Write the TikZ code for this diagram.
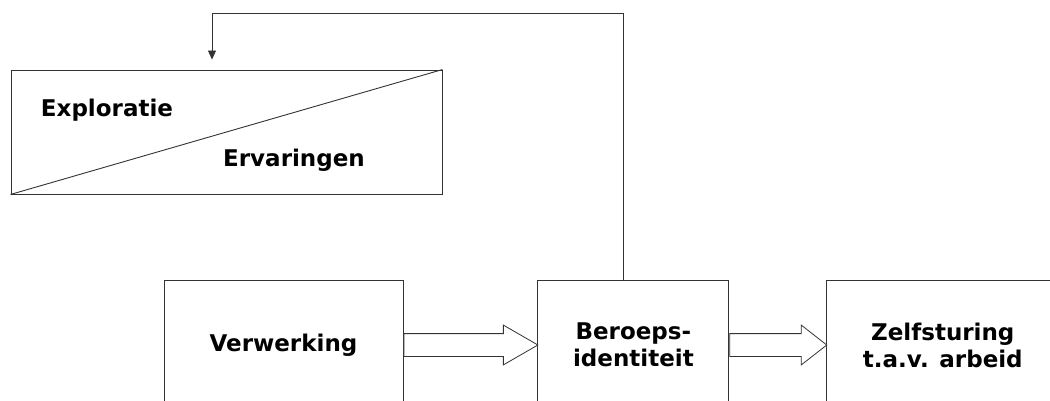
\documentclass[tikz,border=0pt]{standalone}
\usepackage{fontspec}
\setsansfont{DejaVu Sans}
\usetikzlibrary{positioning, shapes.arrows, arrows.meta}

\begin{document}
\begin{tikzpicture}[
    x=1pt, y=-1pt,
    box/.style={rectangle, draw=black!80, line width=0.9pt, align=center, inner sep=0pt, font=\sffamily\bfseries\fontsize{23}{27}\selectfont},
    txt/.style={inner sep=0pt, font=\sffamily\bfseries\fontsize{23}{27}\selectfont},
    blockarrow/.style={single arrow, draw=black!80, line width=0.8pt, fill=white, inner xsep=0pt, inner ysep=11pt, single arrow head extend=8.5pt, single arrow head indent=0pt, anchor=tail},
    fb/.style={-{Triangle[width=8pt,length=9pt]}, draw=black!80, line width=0.9pt}
]
    \useasboundingbox (0,0) rectangle (1050,401);
    \clip (0,0) rectangle (1050,401);

    % Top box, split diagonally
    \node[box, minimum width=431pt, minimum height=124pt] (ervbox) at (226.5,132) {};
    \draw[draw=black!80, line width=0.9pt] (ervbox.south west) -- (ervbox.north east);
    \node[txt] (expl) at (107,110) {Exploratie};
    \node[txt] (erv) at (294,160) {Ervaringen};

    % Bottom row
    \node[box, minimum width=239pt, minimum height=130pt] (verw) at (283.5,345) {Verwerking};
    \node[box, minimum width=191pt, minimum height=130pt, right=134pt of verw] (beroeps) {Beroeps-\\identiteit};
    \node[box, minimum width=232pt, minimum height=130pt, right=97pt of beroeps] (zelf) {Zelfsturing\\t.a.v. arbeid};

    % Block arrows
    \node[blockarrow, minimum height=134pt, single arrow tip angle=60] (pijl1) at (verw.east) {};
    \node[blockarrow, minimum height=97pt, single arrow tip angle=76] (pijl2) at (beroeps.east) {};

    % Feedback
    \coordinate (fbknik) at (212,13);
    \draw[fb, shorten >=10pt] ([xshift=-9.5pt]beroeps.north) |- (fbknik) -- (fbknik |- ervbox.north);

\end{tikzpicture}
\end{document}
